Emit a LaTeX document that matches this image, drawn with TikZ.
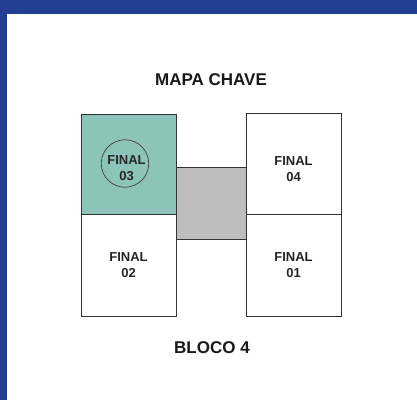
\documentclass[tikz,border=0pt]{standalone}
\usepackage{fontspec}
\setmainfont{Liberation Sans}
\definecolor{frameblue}{HTML}{223F91}
\definecolor{tealfill}{HTML}{8DC4BA}
\definecolor{grayfill}{HTML}{BEBEBE}
\begin{document}
\begin{tikzpicture}[x=1pt,y=-1pt,
  blk/.style={draw=black!80,line width=0.9pt},
  lbl/.style={font=\bfseries\fontsize{13}{16}\selectfont,align=center,text=black!85},
  title/.style={font=\bfseries\fontsize{17}{20}\selectfont,text=black!90}]
\useasboundingbox (0,0) rectangle (417,400);
\fill[white] (0,0) rectangle (417,400);
\fill[frameblue] (0,0) rectangle (417,14);
\fill[frameblue] (0,0) rectangle (7,400);
% connector block
\draw[blk,fill=grayfill] (176,167) rectangle (246,239);
% left column
\draw[blk,fill=tealfill] (81,114) rectangle (176,214);
\node[draw=black!75,line width=0.7pt,circle,minimum size=47.5pt,inner sep=0pt] (c3) at (125,163.5) {};
\node[lbl] (f3) at (126.5,168.5) {FINAL\\03};
\draw[blk] (81,214) rectangle (176,316);
\node[lbl] (f2) at (128.5,265) {FINAL\\02};
% right column
\draw[blk] (246,113) rectangle (341,214);
\node[lbl] (f4) at (293.5,169) {FINAL\\04};
\draw[blk] (246,214) rectangle (341,316);
\node[lbl] (f1) at (293.5,265) {FINAL\\01};
% titles
\node[title] (t1) at (211,80) {MAPA CHAVE};
\node[title] (t2) at (212,348) {BLOCO 4};
\end{tikzpicture}
\end{document}
